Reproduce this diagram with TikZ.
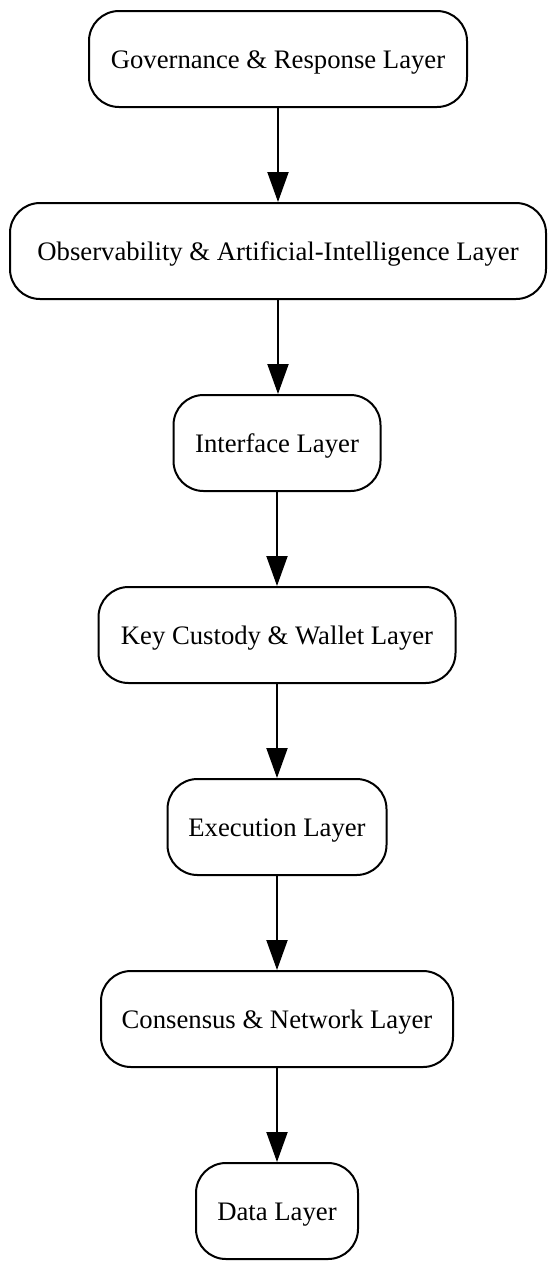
\documentclass[tikz,border=0pt]{standalone}
\usepackage{fontspec}
\setmainfont{Liberation Serif}
\usetikzlibrary{arrows.meta}
\begin{document}
\begin{tikzpicture}[x=1pt,y=-1pt,
  layerbox/.style={draw=black,line width=2pt,rounded corners=30pt,minimum height=96pt,inner sep=0pt,text height=19pt,text depth=1pt,font=\fontsize{26.7}{30}\selectfont,fill=white},
  flow/.style={line width=2pt,-{Triangle[length=30pt,width=21pt]}}]
\useasboundingbox (0,0) rectangle (554,1270);
\node[layerbox,minimum width=378pt] (gov) at (278,59) {Governance \& Response Layer};
\node[layerbox,minimum width=536pt] (obs) at (278,251) {Observability \& Artificial-Intelligence Layer};
\node[layerbox,minimum width=207pt] (int) at (277,443) {Interface Layer};
\node[layerbox,minimum width=357pt] (key) at (277,635) {Key Custody \& Wallet Layer};
\node[layerbox,minimum width=219pt] (exe) at (277,827) {Execution Layer};
\node[layerbox,minimum width=352pt] (con) at (277,1019) {Consensus \& Network Layer};
\node[layerbox,minimum width=162pt] (dat) at (277,1211) {Data Layer};
\draw[flow] (gov.south) -- (gov.south |- obs.north);
\draw[flow] (obs.south) -- (obs.south |- int.north);
\draw[flow] (int) -- (key);
\draw[flow] (key) -- (exe);
\draw[flow] (exe) -- (con);
\draw[flow] (con) -- (dat);
\end{tikzpicture}
\end{document}
